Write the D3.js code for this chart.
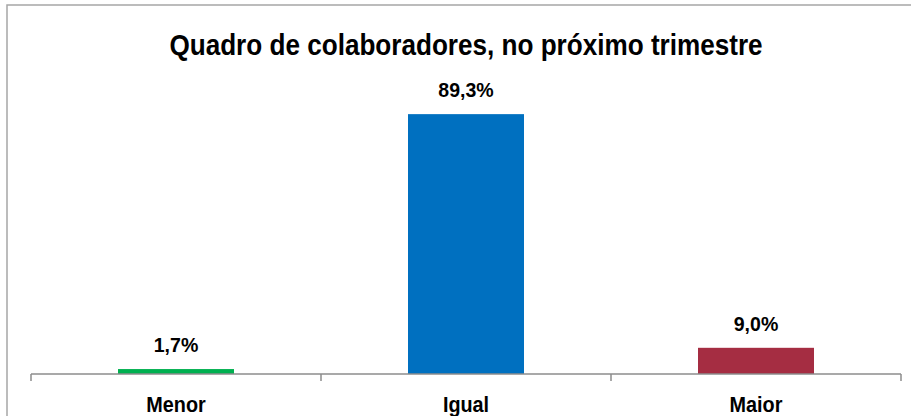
<!DOCTYPE html>
<html><head><meta charset="utf-8">
<script src="https://cdn.jsdelivr.net/npm/d3@7"></script>
<style>
html,body{margin:0;padding:0;background:#fff;}
text{font-family:"Liberation Sans",Arial,sans-serif;font-weight:bold;fill:#000;}
</style></head>
<body>
<svg id="c" width="911" height="416"></svg>
<script>
const title = "Quadro de colaboradores, no próximo trimestre";
const categories = ["Menor", "Igual", "Maior"];
const values = [1.7, 89.3, 9.0];
const valueLabels = ["1,7%", "89,3%", "9,0%"];
const colors = ["#00B050", "#0070C0", "#A52D42"];

const svg = d3.select("#c");

// outer border (cut off at right/bottom like the reference)
svg.append("rect").attr("x", 7).attr("y", 5).attr("width", 920).attr("height", 430)
  .attr("fill", "none").attr("stroke", "#a6a6a6").attr("stroke-width", 1.5);

const x = d3.scaleBand().domain(categories).range([31, 901]).paddingInner(0.6).paddingOuter(0.3);
const y = d3.scaleLinear().domain([0, 100]).range([374, 83]);

function condenseText(factor) {
  return sel => sel.each(function() {
    const w = this.getComputedTextLength();
    d3.select(this).attr("textLength", w * factor).attr("lengthAdjust", "spacingAndGlyphs");
  });
}

// bars
svg.selectAll("rect.bar").data(values).join("rect").attr("class", "bar")
  .attr("x", (d, i) => x(categories[i]))
  .attr("width", x.bandwidth())
  .attr("y", d => y(d))
  .attr("height", d => y(0) - y(d))
  .attr("fill", (d, i) => colors[i]);

// axis
const full = d3.scaleBand().domain(categories).range([31, 901]);
const axis = d3.axisBottom(full).tickSize(0).tickFormat("");
const ag = svg.append("g").attr("transform", `translate(0,${y(0)})`).call(axis);
ag.select(".domain").remove();
ag.append("line").attr("x1", 31).attr("x2", 901).attr("y1", 0).attr("y2", 0)
  .attr("stroke", "#8c8c8c").attr("stroke-width", 1.5);
const tickXs = [31].concat(categories.map(c => full(c) + full.bandwidth()));
ag.selectAll("line.tk").data(tickXs).join("line").attr("class", "tk")
  .attr("x1", d => d).attr("x2", d => d).attr("y1", 0).attr("y2", 7)
  .attr("stroke", "#8c8c8c").attr("stroke-width", 1.5);

// category labels
svg.selectAll("text.cat").data(categories).join("text").attr("class", "cat")
  .attr("x", d => x(d) + x.bandwidth() / 2).attr("y", 412)
  .attr("text-anchor", "middle").style("font-size", "22px")
  .text(d => d).call(condenseText(0.9));

// value labels
svg.selectAll("text.val").data(values).join("text").attr("class", "val")
  .attr("x", (d, i) => x(categories[i]) + x.bandwidth() / 2)
  .attr("y", d => y(d) - 17)
  .attr("text-anchor", "middle").style("font-size", "21px")
  .text((d, i) => valueLabels[i]).call(condenseText(0.93));

// title
svg.append("text").attr("x", 466).attr("y", 55).attr("text-anchor", "middle")
  .style("font-size", "30px").text(title).call(condenseText(0.87));
</script>
</body></html>
